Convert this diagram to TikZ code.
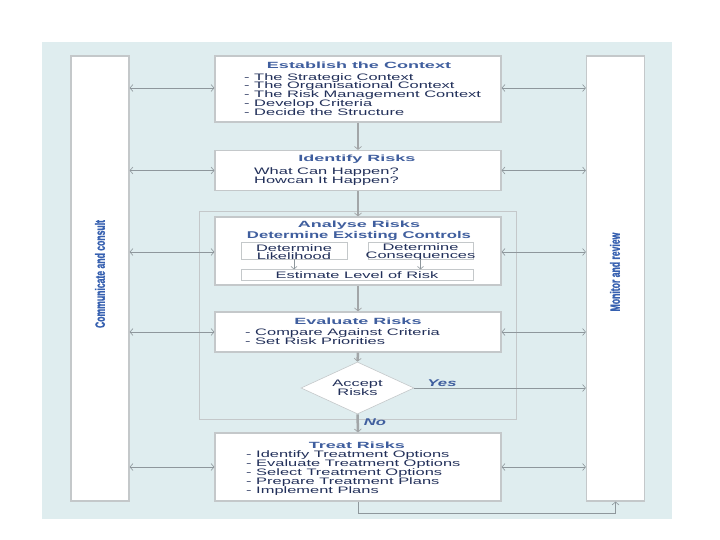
\documentclass[tikz,border=0pt]{standalone}
\usepackage{fontspec}
\setmainfont{Liberation Sans}
\usetikzlibrary{arrows.meta,shapes.geometric}
\newfontfamily\bodyf[FakeStretch=1.75]{Liberation Sans}
\newfontfamily\titlef[FakeStretch=2.0]{Liberation Sans}
\newfontfamily\ctrlf[FakeStretch=1.7]{Liberation Sans}
\newfontfamily\vertf[FakeStretch=0.64,FakeBold=1.2]{Liberation Sans}
\definecolor{bgc}{HTML}{DFEDEF}
\definecolor{titc}{HTML}{3F5E9E}
\definecolor{bodc}{HTML}{22305A}
\definecolor{vertc}{HTML}{3660B0}
\definecolor{edgec}{HTML}{C4C8CA}
\definecolor{arrc}{HTML}{A2A6A8}
\definecolor{thinc}{HTML}{8E979C}
\begin{document}
\begin{tikzpicture}[x=1pt,y=-1pt,
  box/.style={draw=edgec, line width=1.2pt, fill=white, minimum width=286pt, inner sep=0pt},
  col/.style={draw=edgec, line width=1.2pt, fill=white, minimum width=58pt, minimum height=445pt, inner sep=0pt},
  subbox/.style={draw=edgec, line width=0.8pt, fill=white, inner sep=0pt, align=center,
    font=\bodyf\fontsize{9.4}{8}\selectfont, text=bodc},
  ttl/.style={font=\titlef\bfseries\fontsize{9}{9}\selectfont, text=titc, inner sep=0pt},
  bod/.style={font=\bodyf\fontsize{9.4}{8.9}\selectfont, text=bodc, align=left, inner sep=0pt, anchor=west},
  vtxt/.style={font=\vertf\bfseries\fontsize{13.5}{13.5}\selectfont, text=vertc, rotate=90, inner sep=0pt},
  lbl/.style={font=\ctrlf\bfseries\itshape\fontsize{9.8}{9.8}\selectfont, text=titc, inner sep=0pt},
  varrow/.style={draw=arrc, line width=2.5pt,
    -{Straight Barb[length=3pt,width=7pt,line width=0.7pt]}},
  harrow/.style={draw=thinc, line width=0.8pt,
    {Straight Barb[length=3pt,width=7pt,line width=0.6pt]}-{Straight Barb[length=3pt,width=7pt,line width=0.6pt]}},
  sarrow/.style={draw=thinc, line width=0.7pt,
    -{Straight Barb[length=2.5pt,width=6pt,line width=0.6pt]}},
  oarrow/.style={draw=thinc, line width=0.9pt,
    -{Straight Barb[length=3pt,width=7pt,line width=0.6pt]}}
]
\useasboundingbox (0,0) rectangle (720,540);
\fill[bgc] (42,42) rectangle (672,519);

% side columns
\node[col] (comm) at (100,278.5) {};
\node[col] (mon) at (615.5,278.5) {};
\node[vtxt] (commt) at (100,274) {Communicate and consult};
\node[vtxt] (mont) at (615,272) {Monitor and review};

% analyse/evaluate frame
\draw[draw=edgec, line width=0.9pt] (199,211) rectangle (516,419);

% main boxes
\node[box, minimum height=66pt] (est) at (358,89) {};
\node[ttl] (estt) at (359,65) {Establish the Context};
\node[bod] (estb) at (244,94.5) {- The Strategic Context\\- The Organisational Context\\- The Risk Management Context\\- Develop Criteria\\- Decide the Structure};

\node[box, minimum height=40pt] (ide) at (358,170.5) {};
\node[ttl] (idet) at (357,159) {Identify Risks};
\node[bod] (ideb) at (254,176.5) {What Can Happen?\\Howcan It Happen?};

\node[box, minimum height=68pt] (ana) at (358,251) {};
\node[ttl] (anat) at (359,225) {Analyse Risks};
\node[font=\ctrlf\bfseries\fontsize{9.8}{9.8}\selectfont, text=titc, inner sep=0pt] (anac) at (359,236) {Determine Existing Controls};
\node[subbox, minimum width=106pt, minimum height=17pt] (lik) at (294,250.5) {};
\node[subbox, minimum width=105pt, minimum height=17pt] (con) at (420.5,250.5) {};
\node[subbox, draw=none, fill=none] (likt) at (294,252) {Determine\\Likelihood};
\node[subbox, draw=none, fill=none] (cont) at (420.5,252) {Determine\\Consequences};
\node[subbox, minimum width=232pt, minimum height=10.5pt] (lev) at (357,275) {Estimate Level of Risk};
\draw[sarrow] (lik.south) -- (lik.south |- lev.north);
\draw[sarrow] (con.south) -- (con.south |- lev.north);

\node[box, minimum height=40pt] (eva) at (358,332) {};
\node[ttl] (evat) at (358,321) {Evaluate Risks};
\node[bod] (evab) at (245,336.5) {- Compare Against Criteria\\- Set Risk Priorities};

\node[draw=edgec, line width=0.6pt, fill=white, shape=diamond, aspect=2.17,
  minimum width=113pt, minimum height=52pt, inner sep=0pt, align=center,
  font=\bodyf\fontsize{9.4}{9.5}\selectfont, text=bodc] (acc) at (357.5,388) {Accept\\Risks};

\node[box, minimum height=68pt] (tre) at (358,467) {};
\node[ttl] (tret) at (357,445) {Treat Risks};
\node[bod] (treb) at (246,473) {- Identify Treatment Options\\- Evaluate Treatment Options\\- Select Treatment Options\\- Prepare Treatment Plans\\- Implement Plans};

% vertical flow
\draw[varrow] (est.south) -- (ide.north);
\draw[varrow] (ide.south) -- (ana.north);
\draw[varrow] (ana.south) -- (eva.north);
\draw[varrow] (eva.south) -- (acc.north);
\draw[varrow] (acc.south) -- (tre.north);
\node[lbl] (nol) at (375,422) {No};

% yes branch
\draw[oarrow] (acc.east) -- (acc.east -| mon.west);
\node[lbl] (yesl) at (442,383) {Yes};

% side links
\draw[harrow] (comm.east |- 0,88) -- (est.west |- 0,88);
\draw[harrow] (est.east |- 0,88) -- (mon.west |- 0,88);
\draw[harrow] (comm.east |- ide.west) -- (ide.west);
\draw[harrow] (ide.east) -- (ide.east -| mon.west);
\draw[harrow] (comm.east |- 0,252) -- (ana.west |- 0,252);
\draw[harrow] (ana.east |- 0,252) -- (mon.west |- 0,252);
\draw[harrow] (comm.east |- eva.west) -- (eva.west);
\draw[harrow] (eva.east) -- (eva.east -| mon.west);
\draw[harrow] (comm.east |- tre.west) -- (tre.west);
\draw[harrow] (tre.east) -- (tre.east -| mon.west);

% feedback loop
\draw[oarrow] (tre.south) -- (tre.south |- 0,513) -| (mon.south);
\end{tikzpicture}
\end{document}
